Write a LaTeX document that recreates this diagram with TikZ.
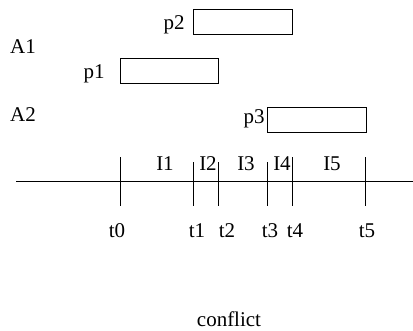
\documentclass[tikz,border=0pt]{standalone}
\usepackage{fontspec}
\setmainfont{Liberation Serif}
\begin{document}
\begin{tikzpicture}[x=1pt,y=-1pt,
  lbl/.style={inner sep=0pt,anchor=base,font=\fontsize{21}{24}\selectfont},
  bar/.style={draw,line width=0.8pt,inner sep=0pt,minimum width=98.5pt,minimum height=25pt,anchor=north west},
  tick/.style={line width=0.8pt}]
\useasboundingbox (0,0) rectangle (413,330);
% boxes
\node[bar] (b2) at (193.3,9.3) {};
\node[bar] (b1) at (119.7,58.3) {};
\node[bar] (b3) at (267,107.3) {};
% labels
\node[lbl] (p2) at (174,29) {p2};
\node[lbl] (A1) at (23,53) {A1};
\node[lbl] (p1) at (94,78) {p1};
\node[lbl] (A2) at (23,121) {A2};
\node[lbl] (p3) at (254,123) {p3};
% axis
\coordinate (axL) at (16,181.7);
\coordinate (axR) at (413,181.7);
\draw[tick] (axL) -- (axR);
% ticks
\coordinate (k0a) at (120,157); \coordinate (k0b) at (120,206);
\coordinate (k1a) at (193.5,162); \coordinate (k1b) at (193.5,206);
\coordinate (k2a) at (218,162); \coordinate (k2b) at (218,206);
\coordinate (k3a) at (267,162); \coordinate (k3b) at (267,206);
\coordinate (k4a) at (292,157); \coordinate (k4b) at (292,206);
\coordinate (k5a) at (365.5,157); \coordinate (k5b) at (365.5,206);
\foreach \i in {0,...,5} {\draw[tick] (k\i a) -- (k\i b);}
% interval labels
\node[lbl] (I1) at (165,170) {I1};
\node[lbl] (I2) at (208,170) {I2};
\node[lbl] (I3) at (246,170) {I3};
\node[lbl] (I4) at (282,170) {I4};
\node[lbl] (I5) at (332,170) {I5};
% time labels
\node[lbl] (t0) at (117,237) {t0};
\node[lbl] (t1) at (197,237) {t1};
\node[lbl] (t2) at (227,237) {t2};
\node[lbl] (t3) at (270,237) {t3};
\node[lbl] (t4) at (295,237) {t4};
\node[lbl] (t5) at (367,237) {t5};
% caption
\node[lbl] (cf) at (229,326) {conflict};
\end{tikzpicture}
\end{document}
